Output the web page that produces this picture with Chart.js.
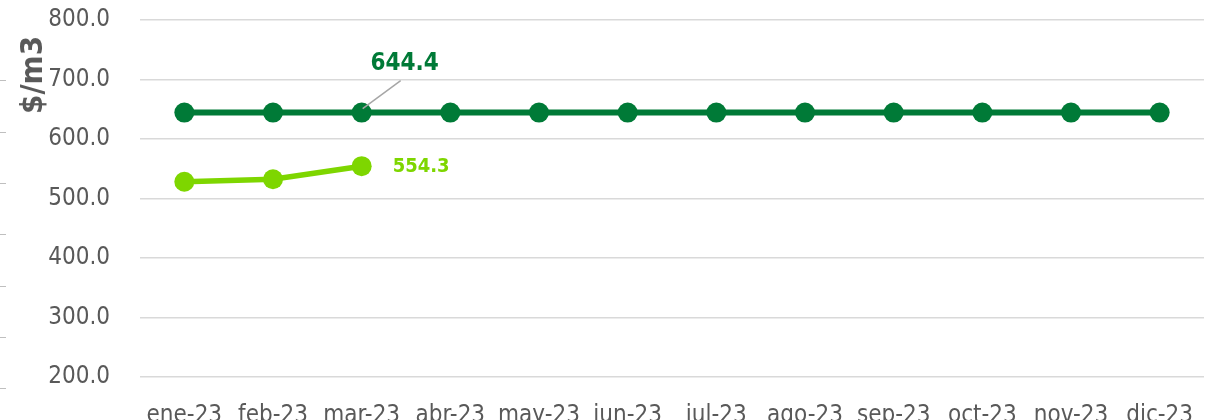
<!DOCTYPE html>
<html lang="es">
<head>
    <meta charset="UTF-8">
    <title>Precio $/m3</title>
    <style>
        html, body { margin: 0; padding: 0; background: #fff; overflow: hidden; }
        #Wrap { position: relative; width: 1205px; height: 420px; overflow: hidden; }
        #Grafico { position: absolute; left: 0; top: 0; }
        #TituloY {
            position: absolute; left: 31px; top: 75px;
            transform: translate(-50%, -50%) rotate(-90deg);
            font: bold 31px 'DejaVu Sans Condensed', 'DejaVu Sans', sans-serif;
            color: #595959; white-space: nowrap;
        }
    </style>
</head>
<body>
    <div id="Wrap">
        <canvas id="Grafico" width="1214" height="420"></canvas>
        <div id="TituloY">$/m3</div>
    </div>
    <script src="https://cdn.jsdelivr.net/npm/chart.js"></script>
    <script>
        // datos
        const meses = ['ene-23', 'feb-23', 'mar-23', 'abr-23', 'may-23', 'jun-23',
            'jul-23', 'ago-23', 'sep-23', 'oct-23', 'nov-23', 'dic-23'];
        const precioRef = [644.4, 644.4, 644.4, 644.4, 644.4, 644.4,
            644.4, 644.4, 644.4, 644.4, 644.4, 644.4];
        const precioReal = [528.2, 532.3, 554.3, null, null, null,
            null, null, null, null, null, null];
        const ticksY = [200, 300, 400, 500, 600, 700, 800];

        const fuente = "'DejaVu Sans Condensed', 'DejaVu Sans', sans-serif";
        const verdeOscuro = '#007A37';
        const verdeClaro = '#7ED600';

        // etiquetas de valor (sin plugin datalabels)
        const etiquetas = {
            id: 'etiquetas',
            afterDatasetsDraw(chart) {
                const ctx = chart.ctx;
                const p1 = chart.getDatasetMeta(0).data[2];
                const p2 = chart.getDatasetMeta(1).data[2];
                ctx.save();
                // linea guia
                ctx.strokeStyle = '#A6A6A6';
                ctx.lineWidth = 1.5;
                ctx.beginPath();
                ctx.moveTo(p1.x + 1, p1.y - 4);
                ctx.lineTo(p1.x + 39, p1.y - 32);
                ctx.stroke();

                ctx.textBaseline = 'middle';
                ctx.textAlign = 'center';
                ctx.fillStyle = verdeOscuro;
                ctx.font = 'bold 24px ' + fuente;
                ctx.fillText(precioRef[2].toFixed(1), p1.x + 43, p1.y - 49);

                ctx.textAlign = 'left';
                ctx.fillStyle = verdeClaro;
                ctx.font = 'bold 20px ' + fuente;
                ctx.fillText(precioReal[2].toFixed(1), p2.x + 31, p2.y + 1);

                // marcas sueltas del borde izquierdo
                ctx.strokeStyle = '#BFBFBF';
                ctx.lineWidth = 1;
                [80, 132, 183, 234, 286, 337, 388].forEach((y) => {
                    ctx.beginPath();
                    ctx.moveTo(0, y + 0.5);
                    ctx.lineTo(6, y + 0.5);
                    ctx.stroke();
                });
                ctx.restore();
            }
        };

        new Chart(document.getElementById('Grafico'), {
            type: 'line',
            data: {
                labels: meses,
                datasets: [{
                    data: precioRef,
                    borderColor: verdeOscuro,
                    backgroundColor: verdeOscuro,
                    borderWidth: 6,
                    pointRadius: 10,
                    pointBorderWidth: 0,
                    tension: 0
                }, {
                    data: precioReal,
                    borderColor: verdeClaro,
                    backgroundColor: verdeClaro,
                    borderWidth: 5.5,
                    pointRadius: 10,
                    pointBorderWidth: 0,
                    tension: 0
                }]
            },
            options: {
                responsive: false,
                animation: false,
                layout: { padding: { top: 20, left: 0, right: 1, bottom: 0 } },
                plugins: {
                    legend: { display: false },
                    tooltip: { enabled: false }
                },
                scales: {
                    x: {
                        offset: true,
                        grid: { display: false },
                        border: { display: false },
                        ticks: {
                            color: '#595959',
                            padding: 16,
                            maxRotation: 0,
                            autoSkip: false,
                            font: { family: fuente, size: 24 }
                        },
                        afterFit(scale) { scale.height = 43; }
                    },
                    y: {
                        min: 200,
                        max: 800,
                        grid: { color: '#D9D9D9', lineWidth: 1.5, drawTicks: false },
                        border: { display: false },
                        afterBuildTicks(scale) {
                            scale.ticks = ticksY.map((v) => ({ value: v }));
                        },
                        ticks: {
                            color: '#595959',
                            padding: 30,
                            font: { family: fuente, size: 24 },
                            callback: (v) => Number(v).toFixed(1)
                        },
                        afterFit(scale) {
                            scale.width = 140;
                            scale.paddingTop = 0;
                            scale.paddingBottom = 0;
                        }
                    }
                }
            },
            plugins: [etiquetas]
        });
    </script>
</body>
</html>
